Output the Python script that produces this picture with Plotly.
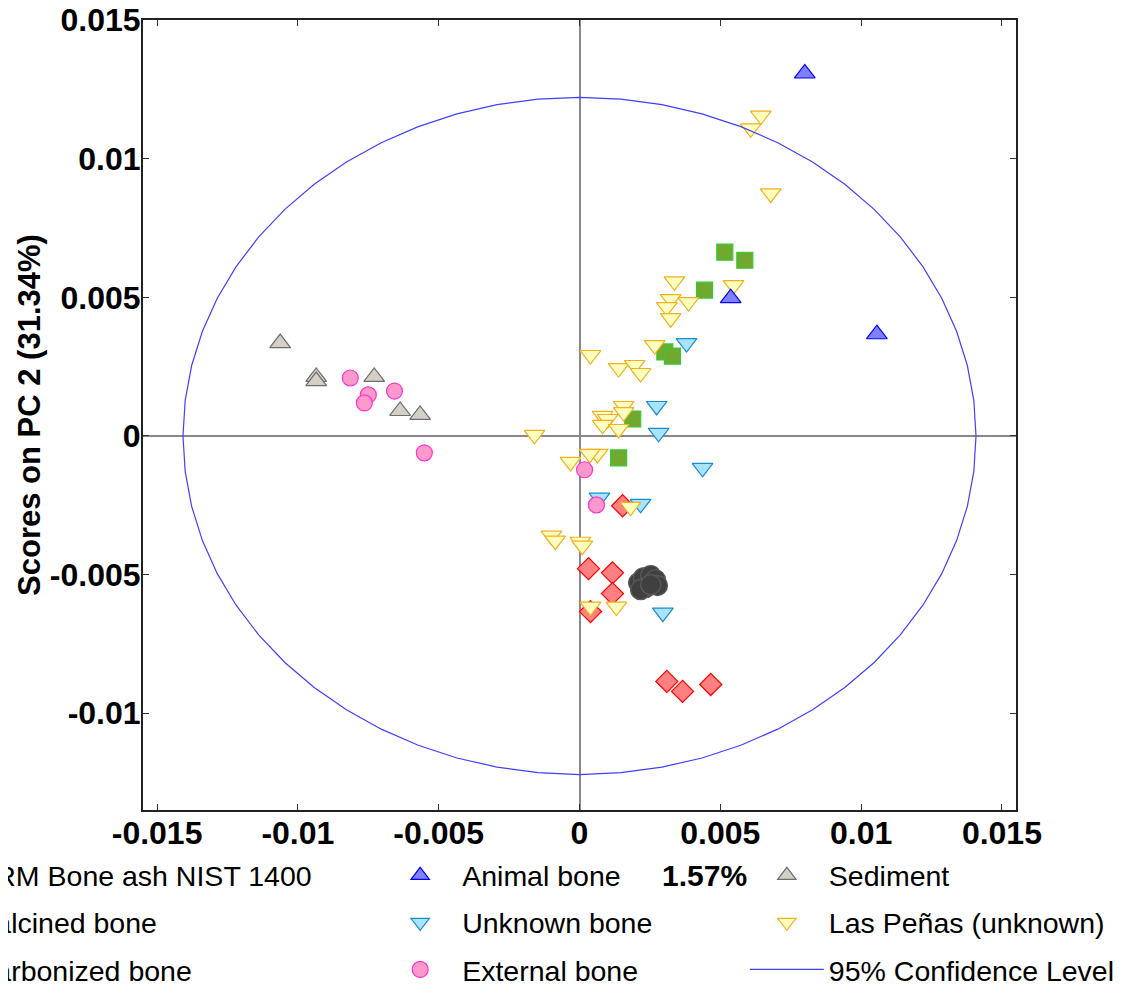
import numpy as np
import plotly.graph_objects as go

# ---------------- data ----------------
crm_x = [0.00210, 0.00227, 0.00253, 0.00270, 0.00277, 0.00234, 0.00217, 0.00253]
crm_y = [-0.00530, -0.00512, -0.00504, -0.00519, -0.00540, -0.00548, -0.00555, -0.00537]

calc_x = [0.00516, 0.00587, 0.00444, 0.00303, 0.00330, 0.00189, 0.00139]
calc_y = [0.00663, 0.00634, 0.00526, 0.00303, 0.00288, 0.00061, -0.00079]

carb_x = [0.00153, 0.00032, 0.00117, 0.00117, 0.00039, 0.00310, 0.00366, 0.00466]
carb_y = [-0.00252, -0.00479, -0.00494, -0.00569, -0.00634, -0.00886, -0.00922, -0.00897]

animal_x = [0.00800, 0.00537, 0.01056]
animal_y = [0.01308, 0.00497, 0.00367]

unknown_x = [0.00380, 0.00274, 0.00281, 0.00437, 0.00071, 0.00217, 0.00296]
unknown_y = [0.00335, 0.00108, 0.00011, -0.00115, -0.00223, -0.00245, -0.00638]

external_x = [-0.00814, -0.00750, -0.00764, -0.00657, -0.00551, 0.00018, 0.00060]
external_y = [0.00209, 0.00148, 0.00119, 0.00162, -0.00061, -0.00122, -0.00249]

sediment_x = [-0.01063, -0.00935, -0.00935, -0.00729, -0.00637, -0.00566]
sediment_y = [0.00335, 0.00213, 0.00198, 0.00213, 0.00090, 0.00076]

penas_x = [0.00644, 0.00608, 0.00679, 0.00337, 0.00547, 0.00324, 0.00310, 0.00387,
           0.00324, 0.00267, 0.00039, 0.00139, 0.00196, 0.00217, 0.00157, 0.00157,
           0.00082, 0.00100, 0.00082, 0.00139, 0.00064, 0.00036, -0.00032, -0.00160,
           0.00181, -0.00100, -0.00086, 0.00003, 0.00010, 0.00039, 0.00131]
penas_y = [0.01156, 0.01110, 0.00875, 0.00558, 0.00544, 0.00494, 0.00465, 0.00483,
           0.00425, 0.00328, 0.00292, 0.00245, 0.00256, 0.00227, 0.00108, 0.00086,
           0.00072, 0.00061, 0.00040, 0.00025, -0.00065, -0.00065, -0.00094, 0.00004,
           -0.00256, -0.00360, -0.00378, -0.00382, -0.00396, -0.00616, -0.00616]

# 95% confidence ellipse parameters
ell_rx = 0.01408
ell_ry = 0.01222
ell_n = 60

x_ticks = [-0.015, -0.01, -0.005, 0, 0.005, 0.01, 0.015]
x_tick_labels = ["-0.015", "-0.01", "-0.005", "0", "0.005", "0.01", "0.015"]
y_ticks = [-0.01, -0.005, 0, 0.005, 0.01, 0.015]
y_tick_labels = ["-0.01", "-0.005", "0", "0.005", "0.01", "0.015"]

FONT = "Liberation Sans"
LEG_FONT = dict(family=FONT, size=28.5, color="black")

fig = go.Figure()


def add(name, xs, ys, symbol, size, fill, edge, legend, rank):
    fig.add_trace(go.Scatter(
        x=xs, y=ys, mode="markers", name=name,
        marker=dict(symbol=symbol, size=size, color=fill,
                    line=dict(color=edge, width=1.2)),
        legend=legend, legendrank=rank, legendgroup=name,
    ))


# drawing order (z-order) chosen to match overlaps in the reference
add("Calcined bone", calc_x, calc_y, "square", 16, "#70a830", "#33cc33", "legend", 2)
add("Carbonized bone", carb_x, carb_y, "diamond", 17, "#ff8080", "#ff0000", "legend", 3)
add("Unknown bone", unknown_x, unknown_y, "triangle-down", 18, "#a8e4ff", "#1a8ad4", "legend2", 2)
add("CRM Bone ash NIST 1400", crm_x, crm_y, "circle", 20, "#404040", "#5a5a5a", "legend", 1)
add("Las Peñas (unknown)", penas_x, penas_y, "triangle-down", 18, "#ffffc0", "#f0b020", "legend3", 2)
add("Sediment", sediment_x, sediment_y, "triangle-up", 18, "#d4d0c8", "#6e6e6e", "legend3", 1)
add("Animal bone", animal_x, animal_y, "triangle-up", 18, "#8080ff", "#0000ff", "legend2", 1)
add("External bone", external_x, external_y, "circle", 16, "#ff99cc", "#ff33cc", "legend2", 3)

t = np.linspace(0, 2 * np.pi, ell_n + 1)
fig.add_trace(go.Scatter(
    x=ell_rx * np.cos(t), y=ell_ry * np.sin(t), mode="lines",
    name="95% Confidence Level", line=dict(color="#4040ff", width=1.2),
    legend="legend3", legendrank=3, legendgroup="ell",
))

leg_common = dict(font=LEG_FONT, bgcolor="rgba(255,255,255,1)", borderwidth=0,
                  traceorder="grouped", tracegroupgap=7, yanchor="top", y=-0.051,
                  xanchor="left", itemwidth=74)

fig.update_layout(
    width=1129, height=994,
    margin=dict(l=135, r=121, t=12, b=192, autoexpand=False),
    paper_bgcolor="white", plot_bgcolor="white",
    font=dict(family=FONT, color="black"),
    showlegend=True,
    legend=dict(x=-0.289, **leg_common),
    legend2=dict(x=0.2694, **leg_common),
    legend3=dict(x=0.6894, **leg_common),
    xaxis=dict(
        range=[-0.0155, 0.0155], tickvals=x_ticks, ticktext=x_tick_labels,
        tickfont=dict(family=FONT, size=32, color="black", weight="bold"),
        ticks="inside", ticklen=6, tickcolor="#333", tickwidth=1,
        ticklabelstandoff=-6, ticklabeloverflow="allow",
        showline=True, linecolor="#222", linewidth=2, mirror="ticks",
        showgrid=False, zeroline=True, zerolinecolor="#888", zerolinewidth=1.5,
        title=None,
    ),
    yaxis=dict(
        range=[-0.0135, 0.01501], tickvals=y_ticks, ticktext=y_tick_labels,
        tickfont=dict(family=FONT, size=32, color="black", weight="bold"),
        ticks="inside", ticklen=6, tickcolor="#333", tickwidth=1,
        ticklabelstandoff=-6, ticklabeloverflow="allow",
        showline=True, linecolor="#222", linewidth=2, mirror="ticks",
        showgrid=False, zeroline=True, zerolinecolor="#888", zerolinewidth=1.5,
        title=dict(text="Scores on PC 2 (31.34%)", standoff=0,
                   font=dict(family=FONT, size=31, color="black", weight="bold")),
    ),
    annotations=[dict(
        text="1.57%", xref="paper", yref="paper", x=0.5927, y=-0.083,
        xanchor="left", yanchor="middle", showarrow=False,
        font=dict(family=FONT, size=30, color="black", weight="bold"),
    )],
)

fig.write_html("out.html")
